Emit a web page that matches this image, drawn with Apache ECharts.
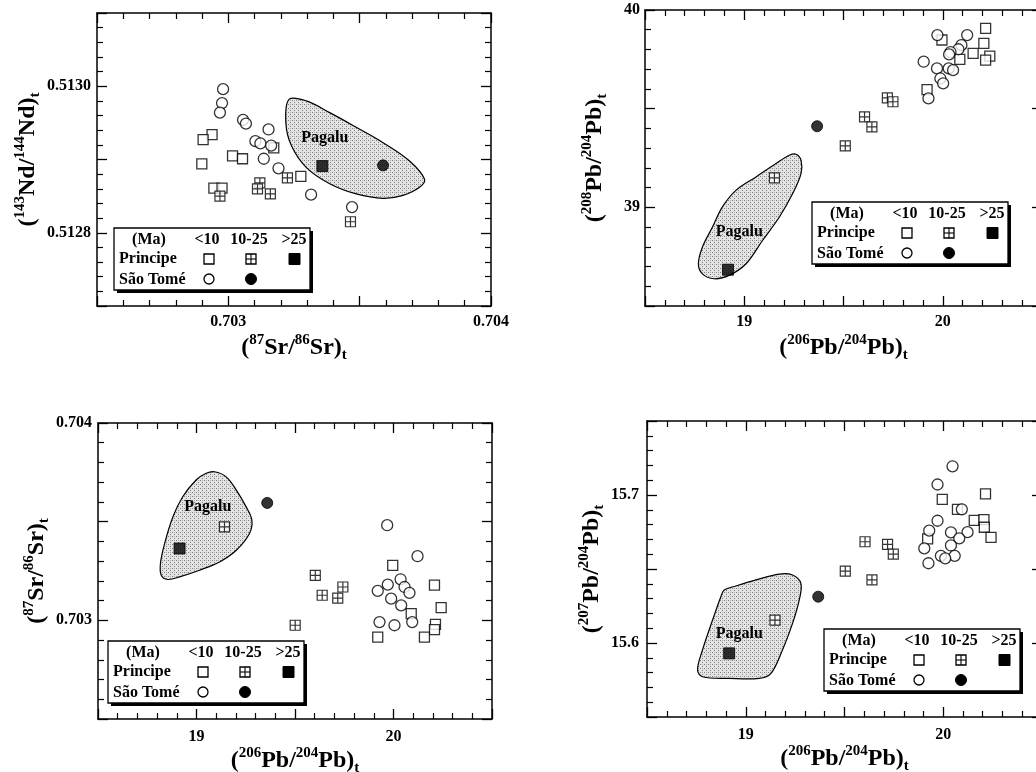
<!DOCTYPE html>
<html>
<head>
<meta charset="utf-8">
<script src="https://cdn.jsdelivr.net/npm/echarts@6/dist/echarts.min.js"></script>
<style>
  html, body { margin: 0; background: #fff; }
  #chart { width: 1036px; height: 772px; }
</style>
</head>
<body>
<div id="chart"></div>
<script>
// Panel 1: (87Sr/86Sr)t vs (143Nd/144Nd)t
const srNdStYoung = [[0.70298, 0.512996], [0.702976, 0.512977], [0.702968, 0.512964], [0.703056, 0.512954], [0.703067, 0.512949], [0.703153, 0.512941], [0.703103, 0.512925], [0.703122, 0.512922], [0.703163, 0.512919], [0.703135, 0.512901], [0.703191, 0.512888], [0.703315, 0.512852], [0.703471, 0.512835]];
const srNdStOld = [[0.703589, 0.512892]];
const srNdPrYoung = [[0.702938, 0.512934], [0.702904, 0.512927], [0.703016, 0.512905], [0.703054, 0.512901], [0.702899, 0.512894], [0.703173, 0.512916], [0.703276, 0.512877], [0.702945, 0.512861], [0.702976, 0.512861]];
const srNdPrMid = [[0.703225, 0.512875], [0.70312, 0.512868], [0.703111, 0.51286], [0.70316, 0.512853], [0.702968, 0.51285], [0.703465, 0.512815]];
const srNdPrOld = [[0.703358, 0.512891]];
const srNdPagalu = [[0.703231, 0.512982], [0.703297, 0.51298], [0.703386, 0.512964], [0.703487, 0.512944], [0.703589, 0.512923], [0.70369, 0.512898], [0.703747, 0.512873], [0.703728, 0.512862], [0.703665, 0.512851], [0.703589, 0.512847], [0.703487, 0.512853], [0.703386, 0.512867], [0.703297, 0.512889], [0.70324, 0.512919], [0.703219, 0.51295]];
const srNdLabel = [0.703367, 0.512929];

// Panel 2: (206Pb/204Pb)t vs (208Pb/204Pb)t
const pb8StYoung = [[19.973, 39.873], [20.123, 39.873], [20.094, 39.822], [20.079, 39.801], [20.039, 39.787], [20.032, 39.775], [19.904, 39.738], [19.971, 39.704], [20.030, 39.704], [20.052, 39.695], [19.988, 39.653], [20.002, 39.628], [19.928, 39.552]];
const pb8StOld = [[19.367, 39.411]];
const pb8PrYoung = [[20.216, 39.907], [19.996, 39.848], [20.207, 39.831], [20.153, 39.78], [20.086, 39.75], [20.237, 39.766], [20.216, 39.746], [19.921, 39.597]];
const pb8PrMid = [[19.721, 39.555], [19.749, 39.535], [19.606, 39.458], [19.643, 39.408], [19.509, 39.311], [19.152, 39.149]];
const pb8PrOld = [[18.918, 38.684]];
const pb8Pagalu = [[19.261, 39.269], [19.286, 39.239], [19.286, 39.171], [19.244, 39.07], [19.177, 38.951], [19.092, 38.832], [19.009, 38.714], [18.924, 38.655], [18.848, 38.638], [18.789, 38.663], [18.769, 38.714], [18.789, 38.798], [18.84, 38.9], [18.89, 39.002], [18.958, 39.086], [19.059, 39.154], [19.16, 39.222], [19.227, 39.264]];
const pb8Label = [18.975, 38.875];

// Panel 3: (206Pb/204Pb)t vs (87Sr/86Sr)t
const srPbStYoung = [[19.968, 0.703482], [20.122, 0.703325], [20.036, 0.703208], [19.971, 0.703181], [19.920, 0.703149], [20.056, 0.703169], [20.081, 0.703139], [19.988, 0.70311], [20.039, 0.703076], [20.095, 0.702991], [19.929, 0.702991], [20.005, 0.702975]];
const srPbStOld = [[19.359, 0.703595]];
const srPbPrYoung = [[19.996, 0.703279], [20.208, 0.703178], [20.242, 0.703064], [20.090, 0.703034], [20.213, 0.70298], [20.208, 0.702953], [19.920, 0.702915], [20.157, 0.702915]];
const srPbPrMid = [[19.142, 0.703474], [19.603, 0.703228], [19.638, 0.703127], [19.743, 0.703169], [19.717, 0.703113], [19.501, 0.702975]];
const srPbPrOld = [[18.914, 0.703364]];
const srPbPagalu = [[19.091, 0.703753], [19.151, 0.703727], [19.202, 0.70366], [19.252, 0.703575], [19.281, 0.703508], [19.269, 0.70344], [19.202, 0.703355], [19.117, 0.703296], [19.015, 0.703254], [18.914, 0.70322], [18.854, 0.703207], [18.821, 0.703228], [18.817, 0.703288], [18.838, 0.703389], [18.88, 0.703524], [18.93, 0.703626], [18.998, 0.703711], [19.049, 0.703745]];
const srPbLabel = [19.057, 0.703575];

// Panel 4: (206Pb/204Pb)t vs (207Pb/204Pb)t
const pb7StYoung = [[20.047, 15.7194], [19.971, 15.7071], [20.094, 15.6903], [19.971, 15.6826], [19.929, 15.6759], [20.039, 15.6747], [20.123, 15.6749], [20.081, 15.6707], [19.904, 15.6639], [20.039, 15.6659], [20.058, 15.6589], [19.988, 15.6589], [20.010, 15.6572], [19.925, 15.6539]];
const pb7StOld = [[19.367, 15.6313]];
const pb7PrYoung = [[19.995, 15.6971], [20.214, 15.7007], [20.072, 15.6903], [20.157, 15.6828], [20.206, 15.6833], [20.208, 15.6782], [20.242, 15.6714], [19.921, 15.6703]];
const pb7PrMid = [[19.148, 15.6155], [19.504, 15.6486], [19.639, 15.6426], [19.604, 15.6684], [19.718, 15.6667], [19.747, 15.6601]];
const pb7PrOld = [[18.916, 15.593]];
const pb7Pagalu = [[18.891, 15.6358], [18.95, 15.6385], [19.052, 15.6426], [19.17, 15.6466], [19.237, 15.6459], [19.279, 15.6403], [19.271, 15.6291], [19.237, 15.6133], [19.186, 15.5953], [19.128, 15.5795], [19.068, 15.5761], [18.916, 15.5761], [18.781, 15.5772], [18.756, 15.5818], [18.781, 15.5953], [18.832, 15.6155], [18.874, 15.6313]];
const pb7Label = [18.967, 15.606];

const serif = 'Liberation Serif';
const crossPath = 'path://M0,0L10,0L10,10L0,10Z M5,0L5,10 M0,5L10,5';

// stippled grey fill for the Pagalu fields
const stip = document.createElement('canvas');
stip.width = 4; stip.height = 4;
(function () {
  const c = stip.getContext('2d');
  c.fillStyle = '#e4e4e4'; c.fillRect(0, 0, 4, 4);
  c.fillStyle = '#808080'; c.fillRect(0, 0, 1, 1); c.fillRect(2, 2, 1, 1);
  c.fillStyle = '#b0b0b0'; c.fillRect(2, 0, 1, 1);
})();

const nameRich = {
  m: {fontFamily: serif, fontWeight: 'bold', fontSize: 24, lineHeight: 30, color: '#000'},
  s: {fontFamily: serif, fontWeight: 'bold', fontSize: 15, lineHeight: 15, verticalAlign: 'top', color: '#000'},
  b: {fontFamily: serif, fontWeight: 'bold', fontSize: 15, lineHeight: 13, verticalAlign: 'bottom', color: '#000'}
};
function ratioName(a, el, b) {
  return '{m|(}{s|' + a + '}{m|' + el + '/}{s|' + b + '}{m|' + el + ')}{b|t}';
}

function baseAxis(grid, min, max, interval) {
  return {
    gridIndex: grid, type: 'value', min: min, max: max, interval: interval,
    axisLine: {onZero: false, lineStyle: {color: '#000', width: 1.5}},
    axisTick: {inside: true, length: 10, lineStyle: {color: '#000', width: 1.3}},
    minorTick: {show: true, splitNumber: 5, length: 6, lineStyle: {color: '#000', width: 1.2}},
    splitLine: {show: false},
    minorSplitLine: {show: false}
  };
}

function labelled(ax, fmt, margin, name, gap, rotate) {
  ax.axisLabel = {
    color: '#000', fontFamily: serif, fontWeight: 'bold', fontSize: 16,
    margin: margin, formatter: fmt
  };
  ax.name = name;
  ax.nameLocation = 'middle';
  ax.nameGap = gap;
  if (rotate) ax.nameRotate = 90;
  ax.nameTextStyle = {rich: nameRich};
  return ax;
}

function bare(ax, pos) {
  ax.position = pos;
  ax.axisLabel = {show: false};
  return ax;
}

const fmtHalfThou = v => (Math.round(v * 2000) % 2 === 0 ? v.toFixed(3) : '');
const fmtTenThou = v => (Math.round(v * 10000) % 2 === 0 ? v.toFixed(4) : '');
const fmtInt = v => (Math.abs(v - Math.round(v)) < 1e-6 ? String(Math.round(v)) : '');
const fmtTenth = v => (Math.round(v * 100) % 10 === 0 ? v.toFixed(1) : '');

const srName = ratioName('87', 'Sr', '86');
const ndName = ratioName('143', 'Nd', '144');
const pb6Name = ratioName('206', 'Pb', '204');
const pb8Name = ratioName('208', 'Pb', '204');
const pb7Name = ratioName('207', 'Pb', '204');

const xAxes = [
  labelled(baseAxis(0, 0.7025, 0.704, 0.0005), fmtHalfThou, 8, srName, 27),
  bare(baseAxis(0, 0.7025, 0.704, 0.0005), 'top'),
  labelled(baseAxis(1, 18.5, 20.5, 0.5), fmtInt, 8, pb6Name, 27),
  bare(baseAxis(1, 18.5, 20.5, 0.5), 'top'),
  labelled(baseAxis(2, 18.5, 20.5, 0.5), fmtInt, 10, pb6Name, 27),
  bare(baseAxis(2, 18.5, 20.5, 0.5), 'top'),
  labelled(baseAxis(3, 18.5, 20.5, 0.5), fmtInt, 10, pb6Name, 27),
  bare(baseAxis(3, 18.5, 20.5, 0.5), 'top')
];
const yAxes = [
  labelled(baseAxis(0, 0.5127, 0.5131, 0.0001), fmtTenThou, 6, ndName, 47, true),
  bare(baseAxis(0, 0.5127, 0.5131, 0.0001), 'right'),
  labelled(baseAxis(1, 38.5, 40, 0.5), fmtInt, 5, pb8Name, 35, true),
  bare(baseAxis(1, 38.5, 40, 0.5), 'right'),
  labelled(baseAxis(2, 0.7025, 0.704, 0.0005), fmtHalfThou, 6, srName, 43, true),
  bare(baseAxis(2, 0.7025, 0.704, 0.0005), 'right'),
  labelled(baseAxis(3, 15.55, 15.75, 0.05), fmtTenth, 8, pb7Name, 34, true),
  bare(baseAxis(3, 15.55, 15.75, 0.05), 'right')
];

function pagaluSeries(panel, pts, labelAt) {
  return {
    type: 'custom', xAxisIndex: panel * 2, yAxisIndex: panel * 2,
    data: [labelAt], silent: true, z: 1,
    renderItem: function (params, api) {
      const lp = api.coord(labelAt);
      return {
        type: 'group',
        children: [{
          type: 'polygon',
          shape: {points: pts.map(p => api.coord(p)), smooth: 0.35},
          style: {fill: {image: stip, repeat: 'repeat'}, stroke: '#000', lineWidth: 1.2}
        }, {
          type: 'text', x: lp[0], y: lp[1],
          style: {
            text: 'Pagalu', fill: '#000', align: 'center', verticalAlign: 'middle',
            font: 'bold 16px "Liberation Serif"'
          }
        }]
      };
    }
  };
}

function pointSeries(panel, data, kind) {
  const styles = {
    prYoung: {symbol: 'rect', symbolSize: 10, itemStyle: {color: '#fff', borderColor: '#000', borderWidth: 1.3}},
    prMid: {symbol: crossPath, symbolSize: 10, itemStyle: {color: '#fff', borderColor: '#000', borderWidth: 1.2}},
    prOld: {symbol: 'rect', symbolSize: 11, itemStyle: {color: '#000', borderColor: '#000', borderWidth: 1}},
    stYoung: {symbol: 'circle', symbolSize: 11, itemStyle: {color: '#fff', borderColor: '#000', borderWidth: 1.3}},
    stOld: {symbol: 'circle', symbolSize: 11, itemStyle: {color: '#000', borderColor: '#000', borderWidth: 1}}
  };
  return Object.assign({
    type: 'scatter', xAxisIndex: panel * 2, yAxisIndex: panel * 2,
    data: data, silent: true, z: 3, emphasis: {disabled: true}
  }, styles[kind]);
}

const panels = [
  [srNdPagalu, srNdLabel, srNdPrYoung, srNdPrMid, srNdPrOld, srNdStYoung, srNdStOld],
  [pb8Pagalu, pb8Label, pb8PrYoung, pb8PrMid, pb8PrOld, pb8StYoung, pb8StOld],
  [srPbPagalu, srPbLabel, srPbPrYoung, srPbPrMid, srPbPrOld, srPbStYoung, srPbStOld],
  [pb7Pagalu, pb7Label, pb7PrYoung, pb7PrMid, pb7PrOld, pb7StYoung, pb7StOld]
];

const series = [];
panels.forEach(function (p, i) {
  series.push(pagaluSeries(i, p[0], p[1]));
  series.push(pointSeries(i, p[2], 'prYoung'));
  series.push(pointSeries(i, p[3], 'prMid'));
  series.push(pointSeries(i, p[5], 'stYoung'));
  series.push(pointSeries(i, p[4], 'prOld'));
  series.push(pointSeries(i, p[6], 'stOld'));
});

// boxed key drawn in each panel
function keyBox(x, y) {
  const font = 'bold 16px "Liberation Serif"';
  const txt = (t, tx, ty, align) => ({
    type: 'text', x: tx, y: ty,
    style: {text: t, font: font, fill: '#000', align: align || 'center', verticalAlign: 'middle'}
  });
  const open = {fill: '#fff', stroke: '#000', lineWidth: 1.3};
  const thin = {stroke: '#000', lineWidth: 1.1};
  const solid = {fill: '#000', stroke: '#000', lineWidth: 1};
  return {
    type: 'group', x: x, y: y, silent: true,
    children: [
      {type: 'rect', shape: {x: 3, y: 3, width: 196, height: 62}, style: {fill: '#000'}},
      {type: 'rect', shape: {x: 0, y: 0, width: 196, height: 62}, style: {fill: '#fff', stroke: '#000', lineWidth: 1.3}},
      txt('(Ma)', 35, 12), txt('<10', 93, 12), txt('10-25', 135, 12), txt('>25', 180, 12),
      txt('Principe', 5, 31, 'left'), txt('São Tomé', 5, 52, 'left'),
      {type: 'rect', shape: {x: 90, y: 26, width: 10, height: 10}, style: open},
      {type: 'rect', shape: {x: 132, y: 26, width: 10, height: 10}, style: open},
      {type: 'line', shape: {x1: 137, y1: 26, x2: 137, y2: 36}, style: thin},
      {type: 'line', shape: {x1: 132, y1: 31, x2: 142, y2: 31}, style: thin},
      {type: 'rect', shape: {x: 175, y: 25.5, width: 11, height: 11}, style: solid},
      {type: 'circle', shape: {cx: 95, cy: 51, r: 5}, style: open},
      {type: 'circle', shape: {cx: 137, cy: 51, r: 5.5}, style: solid}
    ]
  };
}

const chart = echarts.init(document.getElementById('chart'));
chart.setOption({
  backgroundColor: '#fff',
  animation: false,
  grid: [
    {left: 97, top: 13, width: 394, height: 293, outerBoundsMode: 'none', containLabel: false},
    {left: 645, top: 10, width: 397, height: 296, outerBoundsMode: 'none', containLabel: false},
    {left: 98, top: 423, width: 394, height: 296, outerBoundsMode: 'none', containLabel: false},
    {left: 647, top: 421, width: 395, height: 296, outerBoundsMode: 'none', containLabel: false}
  ],
  xAxis: xAxes,
  yAxis: yAxes,
  series: series,
  graphic: [keyBox(114, 228), keyBox(812, 202), keyBox(108, 641), keyBox(824, 629)]
});
</script>
</body>
</html>
